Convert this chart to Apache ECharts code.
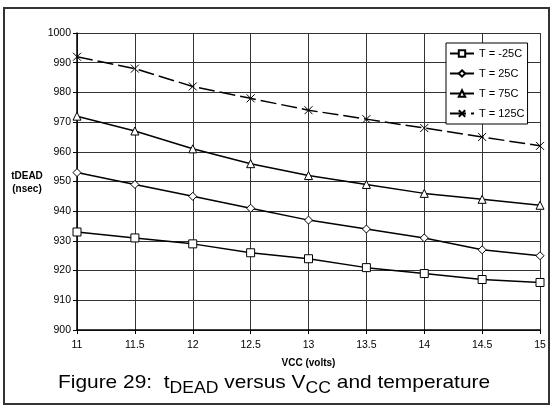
<!DOCTYPE html>
<html>
<head>
<meta charset="utf-8">
<script src="https://cdn.jsdelivr.net/npm/echarts@6/dist/echarts.min.js"></script>
<style>
html,body{margin:0;padding:0;background:#fff;}
#c{width:552px;height:408px;}
</style>
</head>
<body>
<div id="c"></div>
<script>
var vcc = [11, 11.5, 12, 12.5, 13, 13.5, 14, 14.5, 15];
var seriesNames = ['T = -25C', 'T = 25C', 'T = 75C', 'T = 125C'];
var tMinus25 = [933, 931, 929, 926, 924, 921, 919, 917, 916];
var t25 = [953, 949, 945, 941, 937, 934, 931, 927, 925];
var t75 = [972, 967, 961, 956, 952, 949, 946, 944, 942];
var t125 = [992, 988, 982, 978, 974, 971, 968, 965, 962];

var FONT = 'Liberation Sans, Arial, sans-serif';
var xSym = 'path://M0,0L10,10M10,0L0,10';

function pairs(vals) { return vcc.map(function (x, i) { return [x, vals[i]]; }); }

function mk(name, vals, symbol, size, dashed) {
  return {
    name: name, type: 'line', data: pairs(vals),
    symbol: symbol, symbolSize: size, showSymbol: true,
    lineStyle: { color: '#000', width: 1.5, type: dashed ? [16, 5] : 'solid' },
    itemStyle: { color: '#fff', borderColor: '#000', borderWidth: 1 },
    emphasis: { disabled: true },
    animation: false, z: 3
  };
}

var chart = echarts.init(document.getElementById('c'), null, { renderer: 'canvas' });
chart.setOption({
  animation: false,
  backgroundColor: '#fff',
  grid: { left: 77, right: 12, top: 33, bottom: 78, containLabel: false },
  xAxis: {
    type: 'value', min: 11, max: 15, interval: 0.5,
    axisLine: { show: true, lineStyle: { color: '#000', width: 1.5 } },
    axisTick: { show: true, length: 4, lineStyle: { color: '#000' } },
    axisLabel: { color: '#000', fontFamily: FONT, fontSize: 10.5, margin: 10,
      formatter: function (v) { return String(v); } },
    splitLine: { show: true, lineStyle: { color: '#333', width: 1 } },
    name: 'VCC (volts)', nameLocation: 'middle', nameGap: 28,
    nameTextStyle: { color: '#000', fontFamily: FONT, fontSize: 10, fontWeight: 'bold' }
  },
  yAxis: {
    type: 'value', min: 900, max: 1000, interval: 10,
    axisLine: { show: true, lineStyle: { color: '#000', width: 1.5 } },
    axisTick: { show: true, length: 4, lineStyle: { color: '#000' } },
    axisLabel: { color: '#000', fontFamily: FONT, fontSize: 10.5, margin: 6,
      formatter: function (v) { return String(v); } },
    splitLine: { show: true, lineStyle: { color: '#333', width: 1 } }
  },
  legend: {
    orient: 'vertical', left: 446, top: 43,
    data: seriesNames,
    itemWidth: 24, itemHeight: 8, itemGap: 9,
    padding: [5, 3, 5, 3],
    borderColor: '#000', borderWidth: 1, backgroundColor: '#fff',
    textStyle: { color: '#000', fontFamily: FONT, fontSize: 11 },
    selectedMode: false
  },
  series: [
    mk(seriesNames[0], tMinus25, 'rect', 8, false),
    mk(seriesNames[1], t25, 'diamond', 8, false),
    mk(seriesNames[2], t75, 'triangle', 8, false),
    mk(seriesNames[3], t125, xSym, 8, true)
  ],
  graphic: [
    { type: 'rect', shape: { x: 4, y: 8, width: 545, height: 396 },
      style: { fill: null, stroke: '#333', lineWidth: 2 }, silent: true, z: 10 },
    { type: 'text', left: 10, top: 170,
      style: { text: 'tDEAD\n(nsec)', fill: '#000', font: 'bold 10px ' + FONT, textAlign: 'center', lineHeight: 13, width: 34 },
      silent: true },
    { type: 'text', left: 58, top: 373, scaleX: 1.1,
      style: {
        text: '{m|Figure 29:  t}{s|DEAD}{m| versus V}{s|CC}{m| and temperature}',
        rich: {
          m: { fontFamily: FONT, fontSize: 19, fill: '#000', lineHeight: 28, verticalAlign: 'middle' },
          s: { fontFamily: FONT, fontSize: 16, fill: '#000', lineHeight: 16, verticalAlign: 'bottom' }
        }
      },
      silent: true }
  ]
});
</script>
</body>
</html>
